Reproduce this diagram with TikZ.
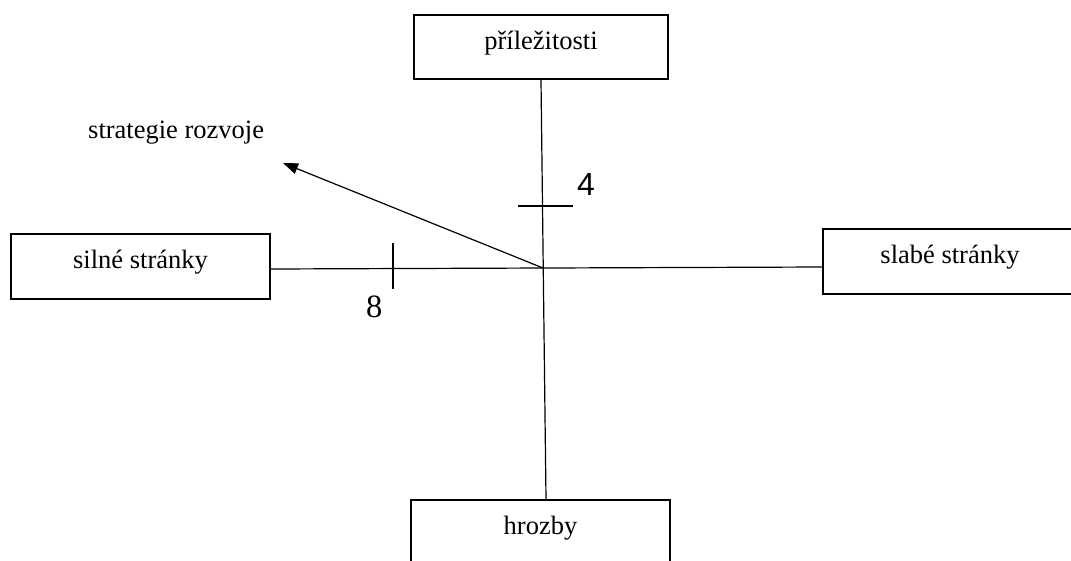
\documentclass[tikz,border=0pt]{standalone}
\usepackage{fontspec}
\setmainfont{Liberation Serif}
\newfontfamily\digitsans{Liberation Sans}
\usetikzlibrary{arrows.meta}

\tikzset{
  box/.style={draw, line width=1.8pt, rectangle, inner sep=0pt,
    font=\fontsize{26.5}{30}\selectfont, text height=0.7em, text depth=0.22em},
  axis/.style={line width=1.2pt},
  tick/.style={line width=1.2pt},
  label/.style={inner sep=0pt, anchor=base west},
}

\begin{document}
\begin{tikzpicture}[x=1pt, y=-1pt]
  \useasboundingbox (0,0) rectangle (1071,560);

  % the four quadrant boxes
  \node[box, minimum width=254pt, minimum height=64pt] (opp) at (541,47) {příležitosti};
  \node[box, minimum width=259pt, minimum height=65pt] (str) at (140.5,266.5) {silné stránky};
  \node[box, minimum width=254pt, minimum height=65pt] (weak) at (950,261.5) {slabé stránky};
  \node[box, minimum width=259pt, minimum height=65pt] (thr) at (540.5,532.5) {hrozby};

  % crossing point of the axes and end of the strategy arrow
  \coordinate (c) at (543,268);
  \coordinate (tip) at (283,163);

  % axes
  \draw[axis] (opp.south) -- ([xshift=5.5pt]thr.north);
  \draw[axis] ([yshift=-2.5pt]str.east) -- ([yshift=-5.5pt]weak.west);

  % strategy arrow
  \draw[axis, -{Triangle[length=15pt, width=11pt]}] (c) -- (tip);
  \node[label, font=\fontsize{26.5}{30}\selectfont] (strat) at (88,138) {strategie rozvoje};

  % scale marks
  \coordinate (t4a) at (518,206);
  \coordinate (t4b) at (573,206);
  \draw[tick] (t4a) -- (t4b);
  \coordinate (t8a) at (393,243);
  \coordinate (t8b) at (393,289);
  \draw[tick] (t8a) -- (t8b);

  \node[label, font=\digitsans\fontsize{32}{36}\selectfont] (four) at (577,195) {4};
  \node[label, font=\fontsize{32.5}{36}\selectfont] (eight) at (366,317) {8};
\end{tikzpicture}
\end{document}
